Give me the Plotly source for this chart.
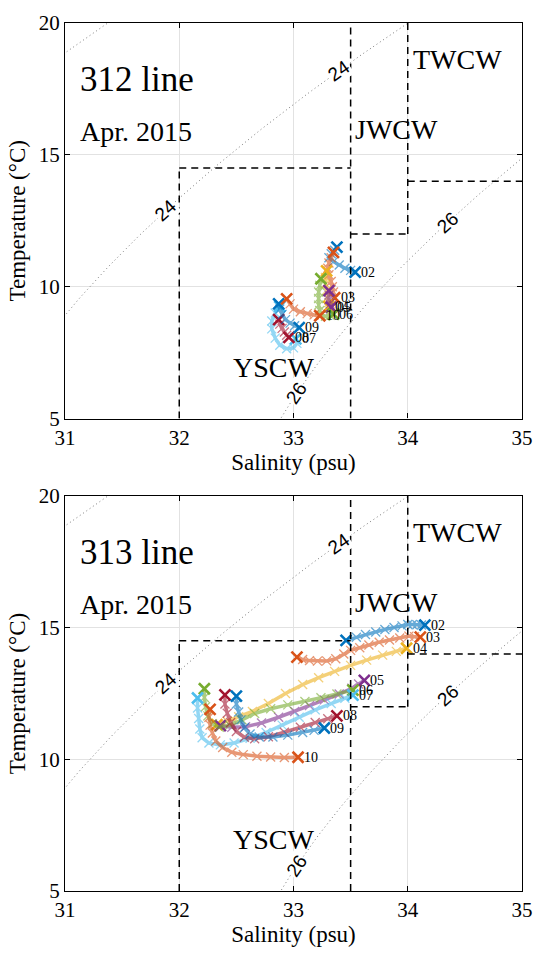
import numpy as np
import plotly.graph_objects as go

# ---------------- colours (MATLAB default order) ----------------
C = ['#0072BD', '#D95319', '#EDB120', '#7E2F8E', '#77AC30', '#4DBEEE', '#A2142F']
stations = ['02', '03', '04', '05', '06', '07', '08', '09', '10']
station_colors = [C[0], C[1], C[2], C[3], C[4], C[5], C[6], C[0], C[1]]

# ---------------- 312 line, Apr. 2015 (salinity / temperature) ----------------
s312_02 = [33.38, 33.36, 33.33, 33.31, 33.35, 33.40, 33.45, 33.50, 33.54]
t312_02 = [11.50, 11.38, 11.25, 11.10, 10.95, 10.82, 10.70, 10.62, 10.55]
s312_03 = [33.35, 33.33, 33.31, 33.30, 33.31, 33.33, 33.34, 33.35, 33.36]
t312_03 = [11.30, 11.10, 10.90, 10.70, 10.45, 10.20, 10.00, 9.80, 9.58]
s312_04 = [33.29, 33.28, 33.28, 33.29, 33.30, 33.31, 33.31]
t312_04 = [10.60, 10.35, 10.10, 9.85, 9.60, 9.40, 9.25]
s312_05 = [33.31, 33.31, 33.31, 33.32, 33.33]
t312_05 = [9.85, 9.68, 9.50, 9.35, 9.22]
s312_06 = [33.24, 33.23, 33.22, 33.22, 33.22, 33.23, 33.24, 33.28, 33.32, 33.35]
t312_06 = [10.30, 10.05, 9.80, 9.55, 9.30, 9.10, 8.92, 8.88, 8.92, 8.96]
s312_07 = [32.88, 32.84, 32.81, 32.81, 32.84, 32.88, 32.94, 33.00, 33.03, 33.02]
t312_07 = [9.25, 9.00, 8.70, 8.40, 8.05, 7.78, 7.65, 7.68, 7.85, 8.02]
s312_08 = [32.87, 32.88, 32.90, 32.92, 32.94, 32.96]
t312_08 = [8.75, 8.58, 8.42, 8.28, 8.16, 8.08]
s312_09 = [32.87, 32.88, 32.90, 32.93, 32.97, 33.01, 33.05]
t312_09 = [9.35, 9.15, 8.95, 8.75, 8.62, 8.52, 8.45]
s312_10 = [32.94, 32.97, 33.00, 33.06, 33.12, 33.18, 33.23]
t312_10 = [9.54, 9.35, 9.15, 9.05, 8.98, 8.93, 8.90]

# ---------------- 313 line, Apr. 2015 ----------------
s313_02 = [33.46, 33.55, 33.63, 33.72, 33.80, 33.88, 33.95, 34.00, 34.04, 34.08, 34.12, 34.15]
t313_02 = [14.52, 14.64, 14.74, 14.84, 14.93, 15.01, 15.07, 15.12, 15.12, 15.11, 15.10, 15.10]
s313_03 = [33.03, 33.08, 33.14, 33.21, 33.29, 33.37, 33.44, 33.50, 33.58, 33.66, 33.75, 33.84, 33.93, 34.01, 34.06, 34.11]
t313_03 = [13.88, 13.79, 13.75, 13.73, 13.74, 13.82, 14.00, 14.14, 14.24, 14.34, 14.45, 14.53, 14.61, 14.68, 14.66, 14.64]
s313_04 = [32.33, 32.42, 32.52, 32.64, 32.78, 32.93, 33.08, 33.22, 33.36, 33.50, 33.64, 33.78, 33.90, 33.99]
t313_04 = [11.32, 11.45, 11.62, 11.82, 12.12, 12.50, 12.84, 13.10, 13.34, 13.57, 13.77, 13.96, 14.10, 14.22]
s313_05 = [32.36, 32.46, 32.58, 32.72, 32.87, 33.01, 33.14, 33.27, 33.40, 33.51, 33.57, 33.62]
t313_05 = [11.28, 11.22, 11.24, 11.38, 11.60, 11.82, 12.04, 12.26, 12.48, 12.70, 12.86, 13.00]
s313_06 = [32.22, 32.22, 32.23, 32.25, 32.29, 32.35, 32.44, 32.55, 32.66, 32.80, 32.95, 33.10, 33.24, 33.38, 33.52]
t313_06 = [12.68, 12.35, 12.00, 11.65, 11.35, 11.22, 11.30, 11.50, 11.74, 11.92, 12.07, 12.20, 12.34, 12.48, 12.63]
s313_07 = [32.16, 32.16, 32.17, 32.18, 32.20, 32.26, 32.36, 32.48, 32.62, 32.76, 32.90, 33.05, 33.19, 33.33, 33.45, 33.52]
t313_07 = [12.33, 11.95, 11.55, 11.15, 10.82, 10.62, 10.55, 10.62, 10.80, 11.02, 11.30, 11.60, 11.88, 12.12, 12.32, 12.44]
s313_08 = [32.40, 32.40, 32.42, 32.45, 32.50, 32.57, 32.66, 32.78, 32.92, 33.06, 33.19, 33.30, 33.38]
t313_08 = [12.45, 12.10, 11.75, 11.40, 11.06, 10.84, 10.78, 10.86, 11.03, 11.22, 11.40, 11.54, 11.65]
s313_09 = [32.50, 32.50, 32.52, 32.54, 32.57, 32.62, 32.70, 32.82, 32.95, 33.08, 33.18, 33.27]
t313_09 = [12.40, 12.10, 11.80, 11.50, 11.20, 10.96, 10.85, 10.85, 10.92, 11.02, 11.10, 11.19]
s313_10 = [32.27, 32.26, 32.27, 32.29, 32.32, 32.38, 32.46, 32.56, 32.68, 32.80, 32.92, 33.04]
t313_10 = [11.90, 11.60, 11.30, 11.00, 10.70, 10.45, 10.27, 10.18, 10.12, 10.09, 10.07, 10.08]

S312 = [s312_02, s312_03, s312_04, s312_05, s312_06, s312_07, s312_08, s312_09, s312_10]
T312 = [t312_02, t312_03, t312_04, t312_05, t312_06, t312_07, t312_08, t312_09, t312_10]
S313 = [s313_02, s313_03, s313_04, s313_05, s313_06, s313_07, s313_08, s313_09, s313_10]
T313 = [t313_02, t313_03, t313_04, t313_05, t313_06, t313_07, t313_08, t313_09, t313_10]

# isopycnal levels and where their labels sit
sigma_levels = [22, 24, 26]
label_levels = [24, 24, 26, 26]
label_salinity = [31.88, 33.40, 33.03, 34.35]

# water-mass boxes  (S_min, S_max, T_min, T_max)
box_edges = [
    (32.0, 32.0, 5.0, 14.5), (32.0, 33.5, 14.5, 14.5), (33.5, 33.5, 5.0, 20.0),
    (34.0, 34.0, 12.0, 20.0), (33.5, 34.0, 12.0, 12.0), (34.0, 35.0, 14.0, 14.0),
]
water_masses = ['TWCW', 'JWCW', 'YSCW']
wm_s = [34.03, 33.52, 32.45]
wm_t = [18.6, 15.95, 6.95]


# ---------------- UNESCO EOS-80 (p = 0) for sigma-t contours ----------------
def sigma_t(S, T):
    rw = (999.842594 + 6.793952e-2 * T - 9.095290e-3 * T**2 + 1.001685e-4 * T**3
          - 1.120083e-6 * T**4 + 6.536332e-9 * T**5)
    A = 8.24493e-1 - 4.0899e-3 * T + 7.6438e-5 * T**2 - 8.2467e-7 * T**3 + 5.3875e-9 * T**4
    B = -5.72466e-3 + 1.0227e-4 * T - 1.6546e-6 * T**2
    return rw + A * S + B * S**1.5 + 4.8314e-4 * S**2 - 1000.0


def isopycnal(level, s):
    s = np.asarray(s, dtype=float)
    lo = np.full_like(s, -2.0)
    hi = np.full_like(s, 35.0)
    for _ in range(60):
        mid = 0.5 * (lo + hi)
        f = sigma_t(s, mid) - level
        lo = np.where(f > 0, mid, lo)
        hi = np.where(f > 0, hi, mid)
    return 0.5 * (lo + hi)


S_grid = np.linspace(30.9, 35.1, 120)
PX_PER_S = 117.0
PX_PER_T = 26.6

fig = go.Figure()
annotations = []
shapes = []

panels = [('x', 'y', '312 line', S312, T312), ('x2', 'y2', '313 line', S313, T313)]
FONT_SERIF = 'Liberation Serif'
FONT_SANS = 'Liberation Sans'

for xa, ya, title, SS, TT in panels:
    # contours
    for lev in sigma_levels:
        fig.add_trace(go.Scatter(x=S_grid, y=isopycnal(lev, S_grid), mode='lines', xaxis=xa, yaxis=ya,
                                 line=dict(color='#7a7a7a', width=1, dash='1px,3px'),
                                 hoverinfo='skip', showlegend=False))
    for lev, sl in zip(label_levels, label_salinity):
        tl = float(isopycnal(lev, [sl])[0])
        d = float((isopycnal(lev, [sl + 0.01])[0] - isopycnal(lev, [sl - 0.01])[0]) / 0.02)
        ang = -np.degrees(np.arctan(d * PX_PER_T / PX_PER_S))
        annotations.append(dict(x=sl, y=tl, xref=xa, yref=ya, text=str(lev), showarrow=False,
                                textangle=ang, bgcolor='white', borderpad=0,
                                font=dict(family=FONT_SANS, size=19, color='black')))
    # boxes
    for x0, x1, y0, y1 in box_edges:
        shapes.append(dict(type='line', xref=xa, yref=ya, x0=x0, x1=x1, y0=y0, y1=y1,
                           line=dict(color='black', width=1.5, dash='7px,5px')))
    # tracks
    for st, col, s, t in zip(stations, station_colors, SS, TT):
        fig.add_trace(go.Scatter(x=s, y=t, mode='lines+markers', xaxis=xa, yaxis=ya, opacity=0.6,
                                 line=dict(color=col, width=3.5),
                                 marker=dict(symbol='x-thin', size=9, color=col, line=dict(width=1.3, color=col)),
                                 hoverinfo='skip', showlegend=False))
        fig.add_trace(go.Scatter(x=[s[0], s[-1]], y=[t[0], t[-1]], mode='markers', xaxis=xa, yaxis=ya,
                                 marker=dict(symbol='x-thin', size=11, color=col, line=dict(width=2.6, color=col)),
                                 hoverinfo='skip', showlegend=False))
        annotations.append(dict(x=s[-1], y=t[-1], xref=xa, yref=ya, text=st, showarrow=False,
                                xanchor='left', yanchor='middle', xshift=4,
                                font=dict(family=FONT_SERIF, size=14, color='black')))
    # panel texts
    annotations.append(dict(x=31.11, y=17.85, xref=xa, yref=ya, text=title, showarrow=False,
                            xanchor='left', yanchor='middle', font=dict(family=FONT_SERIF, size=35, color='black')))
    annotations.append(dict(x=31.11, y=15.9, xref=xa, yref=ya, text='Apr. 2015', showarrow=False,
                            xanchor='left', yanchor='middle', font=dict(family=FONT_SERIF, size=28, color='black')))
    for name, ws, wt in zip(water_masses, wm_s, wm_t):
        annotations.append(dict(x=ws, y=wt, xref=xa, yref=ya, text=name, showarrow=False,
                                xanchor='left', yanchor='middle',
                                font=dict(family=FONT_SERIF, size=28, color='black')))

axis_common = dict(showgrid=True, gridcolor='#e2e2e2', gridwidth=1, showline=True, linecolor='black',
                   linewidth=1.3, mirror='ticks', ticks='inside', ticklen=5, tickcolor='black',
                   zeroline=False, tickfont=dict(family=FONT_SERIF, size=21, color='black'))
xaxis_common = dict(axis_common, range=[31, 35], tick0=31, dtick=1,
                    title=dict(text='Salinity (psu)', font=dict(family=FONT_SERIF, size=23), standoff=4))
yaxis_common = dict(axis_common, range=[5, 20], tick0=5, dtick=5,
                    title=dict(text='Temperature (°C)', font=dict(family=FONT_SERIF, size=23), standoff=6))

fig.update_layout(
    width=544, height=953,
    margin=dict(l=65, r=11, t=16, b=60),
    paper_bgcolor='white', plot_bgcolor='white', showlegend=False,
    font=dict(family=FONT_SERIF, color='black'),
    xaxis=dict(xaxis_common, domain=[0, 1], anchor='y'),
    yaxis=dict(yaxis_common, domain=[0.5443, 1.0], anchor='x'),
    xaxis2=dict(xaxis_common, domain=[0, 1], anchor='y2'),
    yaxis2=dict(yaxis_common, domain=[0.0, 0.455], anchor='x2'),
    annotations=annotations, shapes=shapes,
)

fig.write_html('out.html')
